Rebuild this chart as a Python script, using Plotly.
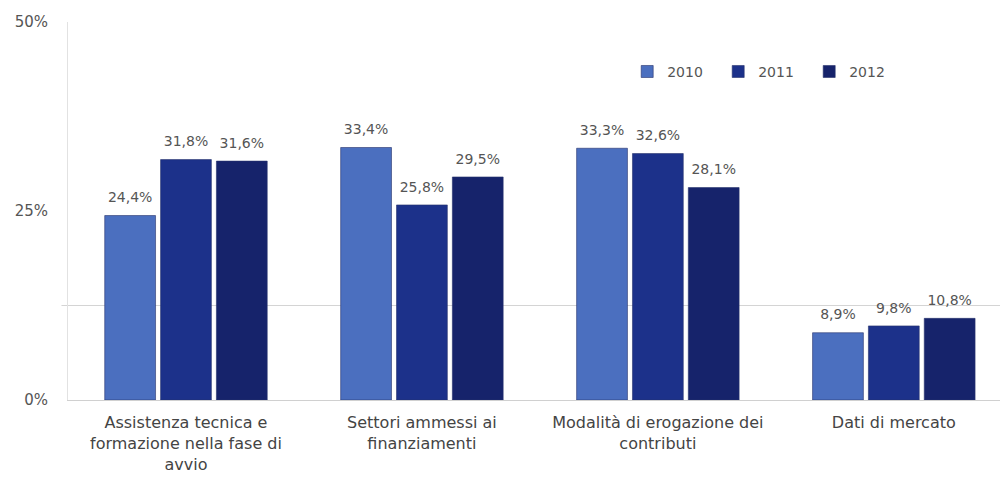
import plotly.graph_objects as go

categories = [
    "Assistenza tecnica e<br>formazione nella fase di<br>avvio",
    "Settori ammessi ai<br>finanziamenti",
    "Modalità di erogazione dei<br>contributi",
    "Dati di mercato",
]
years = ["2010", "2011", "2012"]
values_2010 = [24.4, 33.4, 33.3, 8.9]
values_2011 = [31.8, 25.8, 32.6, 9.8]
values_2012 = [31.6, 29.5, 28.1, 10.8]
y_ticks = [0, 25, 50]
y_tick_labels = ["0%", "25%", "50%"]

series = [values_2010, values_2011, values_2012]
colors = ["#4b6fbf", "#1c318a", "#16236b"]

FONT = "DejaVu Sans, sans-serif"
GAP = 0.29

fig = go.Figure()
for name, vals, col in zip(years, series, colors):
    fig.add_trace(go.Bar(
        name=name,
        x=categories,
        y=vals,
        offsetgroup=name,
        marker=dict(color=col, line=dict(color="#27336b", width=0.6)),
        hoverinfo="skip",
    ))

# value labels, grouped to sit over their bars
for name, vals in zip(years, series):
    fig.add_trace(go.Scatter(
        x=categories,
        y=vals,
        offsetgroup=name,
        mode="markers+text",
        marker=dict(size=14, opacity=0),
        text=[f"{v:.1f}%".replace(".", ",") for v in vals],
        textposition="top center",
        textfont=dict(family=FONT, size=14, color="#555555"),
        showlegend=False,
        cliponaxis=False,
    ))

# faint horizontal reference line at half of the first tick step
fig.add_shape(type="line", xref="paper", yref="y", x0=-0.007, x1=1.0,
              y0=12.5, y1=12.5, line=dict(color="#d4d4d4", width=1), layer="below")

fig.update_layout(
    width=1005, height=484,
    margin=dict(l=68, r=5, t=22, b=84),
    paper_bgcolor="white", plot_bgcolor="white",
    barmode="group", bargap=GAP, bargroupgap=0.09,
    scattermode="group", scattergap=GAP,
    font=dict(family=FONT, size=14, color="#444444"),
    legend=dict(orientation="h", x=0.6, y=0.868, xanchor="left", yanchor="middle",
                font=dict(family=FONT, size=14, color="#555555"),
                entrywidth=46, itemwidth=30, bgcolor="rgba(0,0,0,0)"),
    xaxis=dict(showline=True, linecolor="#d0d0d0", linewidth=1,
               range=[-0.5, 3.45],
               tickfont=dict(family=FONT, size=16, color="#444444"),
               ticklabelstandoff=8,
               ticks="", showgrid=False),
    yaxis=dict(range=[0, 50], tickvals=y_ticks, ticktext=y_tick_labels,
               showgrid=False, zeroline=False,
               showline=True, linecolor="#e2e2e2", linewidth=1,
               ticklabelstandoff=16,
               tickfont=dict(family=FONT, size=15, color="#555555")),
)

fig.write_html("out.html")
